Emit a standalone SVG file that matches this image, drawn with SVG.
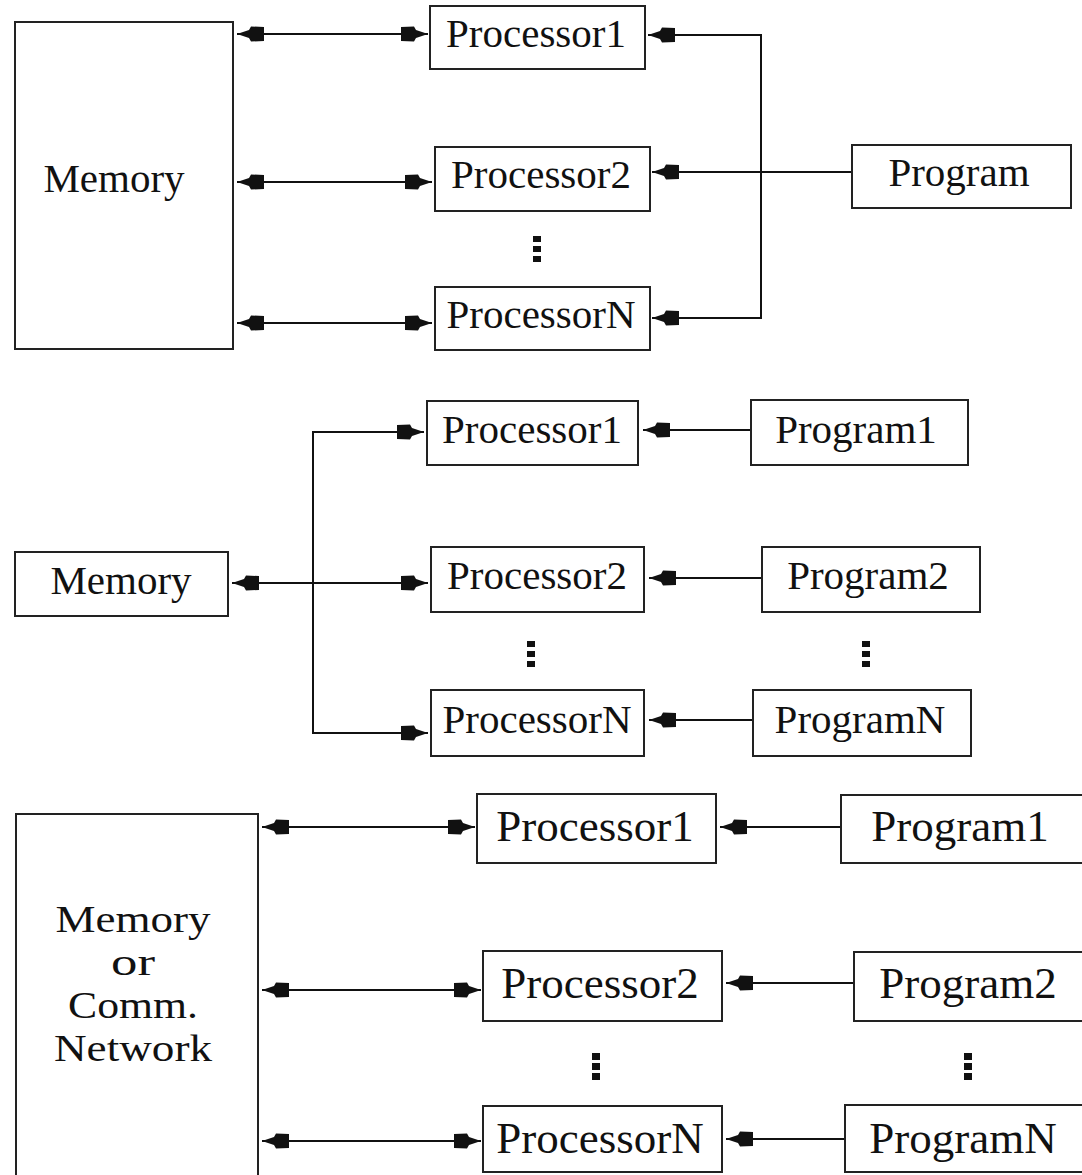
<svg xmlns="http://www.w3.org/2000/svg" width="1082" height="1175" viewBox="0 0 1082 1175">
<style>
.box{fill:#fff;stroke:#222;stroke-width:2}
.t{font-family:"Liberation Serif","Times New Roman",serif;font-size:41px;fill:#111;text-anchor:middle}
.t3{font-family:"Liberation Serif","Times New Roman",serif;font-size:45px;fill:#111;text-anchor:middle}
.tm{font-family:"Liberation Serif","Times New Roman",serif;font-size:38px;fill:#111;text-anchor:middle}
.c{fill:none;stroke:#111;stroke-width:2}
.d{fill:#111}
</style>
<defs>
<marker id="ah" markerUnits="userSpaceOnUse" markerWidth="30" markerHeight="18" viewBox="-28 -9 30 18" refX="0" refY="0" orient="auto-start-reverse">
<path d="M0,0 L-12,-4 L-14,-7.5 L-27,-7 L-27,7 L-14,7.5 L-12,4 Z" fill="#111"/>
</marker>
</defs>

<g id="connectors">
<path class="c" d="M237,34 H428" marker-start="url(#ah)" marker-end="url(#ah)"/>
<path class="c" d="M237,182 H432" marker-start="url(#ah)" marker-end="url(#ah)"/>
<path class="c" d="M237,323 H432" marker-start="url(#ah)" marker-end="url(#ah)"/>
<path class="c" d="M852,172 H652" marker-end="url(#ah)"/>
<path class="c" d="M648,35 H761 V318 H652" marker-start="url(#ah)" marker-end="url(#ah)"/>

<path class="c" d="M232,583 H428" marker-start="url(#ah)" marker-end="url(#ah)"/>
<path class="c" d="M424,432 H313 V733 H428" marker-start="url(#ah)" marker-end="url(#ah)"/>
<path class="c" d="M751,430 H643" marker-end="url(#ah)"/>
<path class="c" d="M762,578 H649" marker-end="url(#ah)"/>
<path class="c" d="M753,720 H649" marker-end="url(#ah)"/>

<path class="c" d="M262,827 H475" marker-start="url(#ah)" marker-end="url(#ah)"/>
<path class="c" d="M262,990 H481" marker-start="url(#ah)" marker-end="url(#ah)"/>
<path class="c" d="M262,1141 H481" marker-start="url(#ah)" marker-end="url(#ah)"/>
<path class="c" d="M841,827 H720" marker-end="url(#ah)"/>
<path class="c" d="M854,983 H726" marker-end="url(#ah)"/>
<path class="c" d="M845,1139 H726" marker-end="url(#ah)"/>
</g>

<g id="s1-memory"><rect class="box" x="15" y="22" width="218" height="327"/><text class="t" x="114" y="192">Memory</text></g>
<g id="s1-processor1"><rect class="box" x="430" y="6" width="215" height="63"/><text class="t" x="536" y="47">Processor1</text></g>
<g id="s1-processor2"><rect class="box" x="435" y="147" width="215" height="64"/><text class="t" x="541" y="188">Processor2</text></g>
<g id="s1-processorN"><rect class="box" x="435" y="287" width="215" height="63"/><text class="t" x="541" y="328">ProcessorN</text></g>
<g id="s1-program"><rect class="box" x="852" y="145" width="219" height="63"/><text class="t" x="959" y="186">Program</text></g>
<g id="s1-dots"><rect class="d" x="533" y="236" width="8" height="6"/><rect class="d" x="533" y="246" width="8" height="6"/><rect class="d" x="533" y="256" width="8" height="6"/></g>

<g id="s2-memory"><rect class="box" x="15" y="552" width="213" height="64"/><text class="t" x="121" y="594">Memory</text></g>
<g id="s2-processor1"><rect class="box" x="427" y="401" width="211" height="64"/><text class="t" x="532" y="443">Processor1</text></g>
<g id="s2-processor2"><rect class="box" x="431" y="547" width="213" height="65"/><text class="t" x="537" y="589">Processor2</text></g>
<g id="s2-processorN"><rect class="box" x="431" y="690" width="213" height="66"/><text class="t" x="537" y="733">ProcessorN</text></g>
<g id="s2-program1"><rect class="box" x="751" y="400" width="217" height="65"/><text class="t" x="856" y="443">Program1</text></g>
<g id="s2-program2"><rect class="box" x="762" y="547" width="218" height="65"/><text class="t" x="868" y="589">Program2</text></g>
<g id="s2-programN"><rect class="box" x="753" y="690" width="218" height="66"/><text class="t" x="860" y="733">ProgramN</text></g>
<g id="s2-dots"><rect class="d" x="527" y="641" width="8" height="6"/><rect class="d" x="527" y="651" width="8" height="6"/><rect class="d" x="527" y="661" width="8" height="6"/><rect class="d" x="862" y="641" width="8" height="6"/><rect class="d" x="862" y="651" width="8" height="6"/><rect class="d" x="862" y="661" width="8" height="6"/></g>

<g id="s3-memory"><rect class="box" x="16" y="814" width="242" height="380"/>
<text class="tm" x="133" y="932" textLength="155" lengthAdjust="spacingAndGlyphs">Memory</text>
<text class="tm" x="133" y="975" textLength="44" lengthAdjust="spacingAndGlyphs">or</text>
<text class="tm" x="133" y="1018" textLength="130" lengthAdjust="spacingAndGlyphs">Comm.</text>
<text class="tm" x="133" y="1061" textLength="158" lengthAdjust="spacingAndGlyphs">Network</text></g>
<g id="s3-processor1"><rect class="box" x="477" y="794" width="239" height="69"/><text class="t3" x="595" y="841">Processor1</text></g>
<g id="s3-processor2"><rect class="box" x="483" y="951" width="239" height="70"/><text class="t3" x="600" y="998">Processor2</text></g>
<g id="s3-processorN"><rect class="box" x="483" y="1106" width="239" height="66"/><text class="t3" x="600" y="1153">ProcessorN</text></g>
<g id="s3-program1"><rect class="box" x="841" y="795" width="260" height="68"/><text class="t3" x="960" y="841">Program1</text></g>
<g id="s3-program2"><rect class="box" x="854" y="952" width="250" height="69"/><text class="t3" x="968" y="998">Program2</text></g>
<g id="s3-programN"><rect class="box" x="845" y="1105" width="255" height="67"/><text class="t3" x="963" y="1153">ProgramN</text></g>
<g id="s3-dots"><rect class="d" x="592" y="1053" width="8" height="7"/><rect class="d" x="592" y="1063" width="8" height="7"/><rect class="d" x="592" y="1073" width="8" height="7"/><rect class="d" x="964" y="1053" width="8" height="7"/><rect class="d" x="964" y="1063" width="8" height="7"/><rect class="d" x="964" y="1073" width="8" height="7"/></g>
</svg>
